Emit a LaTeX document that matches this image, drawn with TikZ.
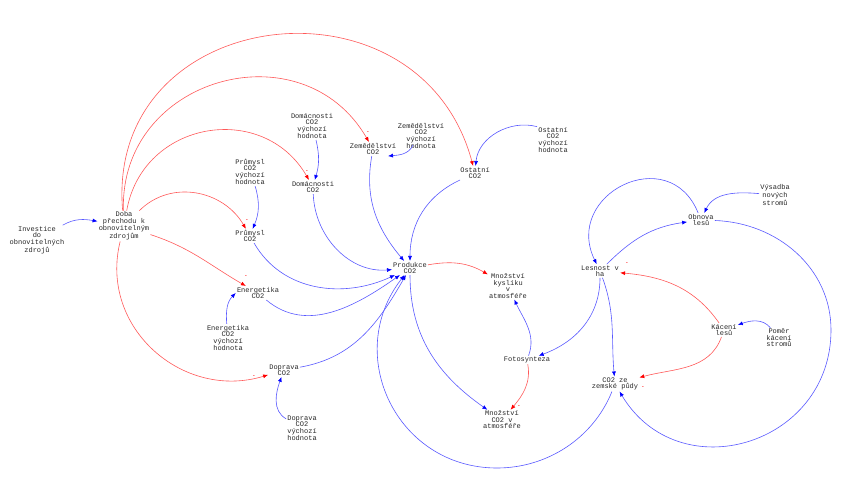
\documentclass[tikz,border=0pt]{standalone}
\usepackage{fontspec}
\newfontfamily\vensimfont{Liberation Mono}
\usetikzlibrary{arrows.meta,positioning}
\tikzset{
    var/.style ={
        align=center,
        inner sep=1pt,
        text=black!85,
        font=\vensimfont\fontsize{7}{6.5}\selectfont
    },
    poslink/.style ={
        draw=blue!65,
        line width=0.6pt,
        -{Latex[color=blue,length=5pt,width=4pt]}
    },
    neglink/.style ={
        draw=red!65,
        line width=0.6pt,
        -{Latex[color=red,length=5pt,width=4pt]}
    },
    polarity/.style ={
        text=red,
        inner sep=0pt,
        font=\vensimfont\fontsize{6}{6}\selectfont
    }
}
\begin{document}
\begin{tikzpicture}[x=1pt,y=1pt]
    \useasboundingbox (0,0) rectangle (850,-491);
    \node[var] (inv) at(37,-240) {Investice\\do\\obnovitelných\\zdrojů};
    \node[var] (doba) at(124,-226) {Doba\\přechodu k\\obnovitelným\\zdrojům};
    \node[var] (domv) at(312,-126) {Domácnosti\\CO2\\výchozí\\hodnota};
    \node[var] (zemv) at(421,-136) {Zemědělství\\CO2\\výchozí\\hodnota};
    \node[var] (zem) at(373,-149) {Zemědělství\\CO2};
    \node[var] (dom) at(313,-187) {Domácnosti\\CO2};
    \node[var] (prumv) at(250,-172) {Průmysl\\CO2\\výchozí\\hodnota};
    \node[var] (prum) at(250,-236) {Průmysl\\CO2};
    \node[var] (ener) at(258,-293) {Energetika\\CO2};
    \node[var] (enerv) at(228,-338) {Energetika\\CO2\\výchozí\\hodnota};
    \node[var] (dopr) at(284,-370) {Doprava\\CO2};
    \node[var] (doprv) at(302,-428) {Doprava\\CO2\\výchozí\\hodnota};
    \node[var] (ost) at(475,-173) {Ostatní\\CO2};
    \node[var] (ostv) at(553,-140) {Ostatní\\CO2\\výchozí\\hodnota};
    \node[var] (prod) at(410,-268) {Produkce\\CO2};
    \node[var] (kysl) at(508,-286) {Množství\\kyslíku\\v\\atmosféře};
    \node[var] (foto) at(527,-360) {Fotosynteza};
    \node[var] (mco2) at(502,-420) {Množství\\CO2 v\\atmosféře};
    \node[var] (les) at(600,-271) {Lesnost v\\ha};
    \node[var] (obn) at(701,-220) {Obnova\\lesů};
    \node[var] (vys) at(775,-195) {Výsadba\\nových\\stromů};
    \node[var] (kac) at(724,-330) {Kácení\\lesů};
    \node[var] (pomer) at(779,-338) {Poměr\\kácení\\stromů};
    \node[var] (puda) at(615,-384) {CO2 ze\\zemské půdy};
    \coordinate (loopb) at(497,-468);
    \coordinate (loopr) at(831,-330);

    \draw[poslink] (inv) to[out=30,in=170] (doba);
    \draw[poslink] (domv) to[bend left=15] (dom);
    \draw[poslink] ([xshift=-8,yshift=5]zemv.south) to[out=-115,in=5] ([xshift=15]zem.south);
    \draw[poslink] (prumv) to[bend left=20] (prum);
    \draw[poslink] (enerv) to[out=95,in=225] (ener.west);
    \draw[poslink] (doprv) to[out=150,in=250] (dopr);
    \draw[poslink] (ostv.140) to[out=165,in=85] (ost);
    \draw[poslink] (zem) to[out=-100,in=130] (prod);
    \draw[poslink] (dom) to[out=-88,in=185] (prod);
    \draw[poslink] (prum) to[out=-60,in=205] (prod);
    \draw[poslink] (ener) to[out=-40,in=215] (prod);
    \draw[poslink] (dopr) to[out=10,in=240] (prod);
    \draw[poslink] (ost) to[out=205,in=90] (prod);
    \draw[poslink] (prod) to[out=-90,in=145] (mco2);
    \draw[poslink] (puda) to[out=-112,in=0,looseness=0.93] (loopb)
        to[out=180,in=-128,looseness=1.2] (prod);
    \draw[poslink] (les) to[out=45,in=188] (obn);
    \draw[poslink] (obn) to[out=112,in=116,looseness=1.75] (les);
    \draw[poslink] (vys) to[out=175,in=65] (obn);
    \draw[poslink] (obn) to[out=-2,in=90] (loopr)
        to[out=-90,in=-59,looseness=1.34] (puda);
    \draw[poslink] (les) to[out=-90,in=20] (foto);
    \draw[poslink] (les) to[out=-70,in=95] (puda);
    \draw[poslink] (foto) to[out=70,in=-65] (kysl);
    \draw[poslink] (pomer) to[out=130,in=20] (kac);

    \draw[neglink] (doba) to[out=92,in=120,looseness=1.34] (zem);
    \draw[neglink] (doba) to[out=95,in=105,looseness=1.5] (ost);
    \draw[neglink] (doba) to[out=80,in=120,looseness=1.27] (dom);
    \draw[neglink] (doba) to[out=45,in=120,looseness=1.06] (prum);
    \draw[neglink] (doba) to[out=-18,in=150] (ener);
    \draw[neglink] (doba) to[out=-104,in=197,looseness=1.14] (dopr);
    \draw[neglink] (prod) to[out=10,in=150] (kysl);
    \draw[neglink] (foto) to[out=-80,in=50] (mco2);
    \draw[neglink] (kac) to[out=125,in=-5] (les);
    \draw[neglink] (kac) to[out=-110,in=15] (puda);

    \node[polarity] (s1) at(368,-133) {-};
    \node[polarity] (s2) at(307,-172) {-};
    \node[polarity] (s3) at(247,-221) {-};
    \node[polarity] (s4) at(246,-277) {-};
    \node[polarity] (s5) at(254,-377) {-};
    \node[polarity] (s6) at(627,-264) {-};
    \node[polarity] (s7) at(643,-388) {-};
    \node[polarity] (s8) at(519,-407) {-};
\end{tikzpicture}
\end{document}
